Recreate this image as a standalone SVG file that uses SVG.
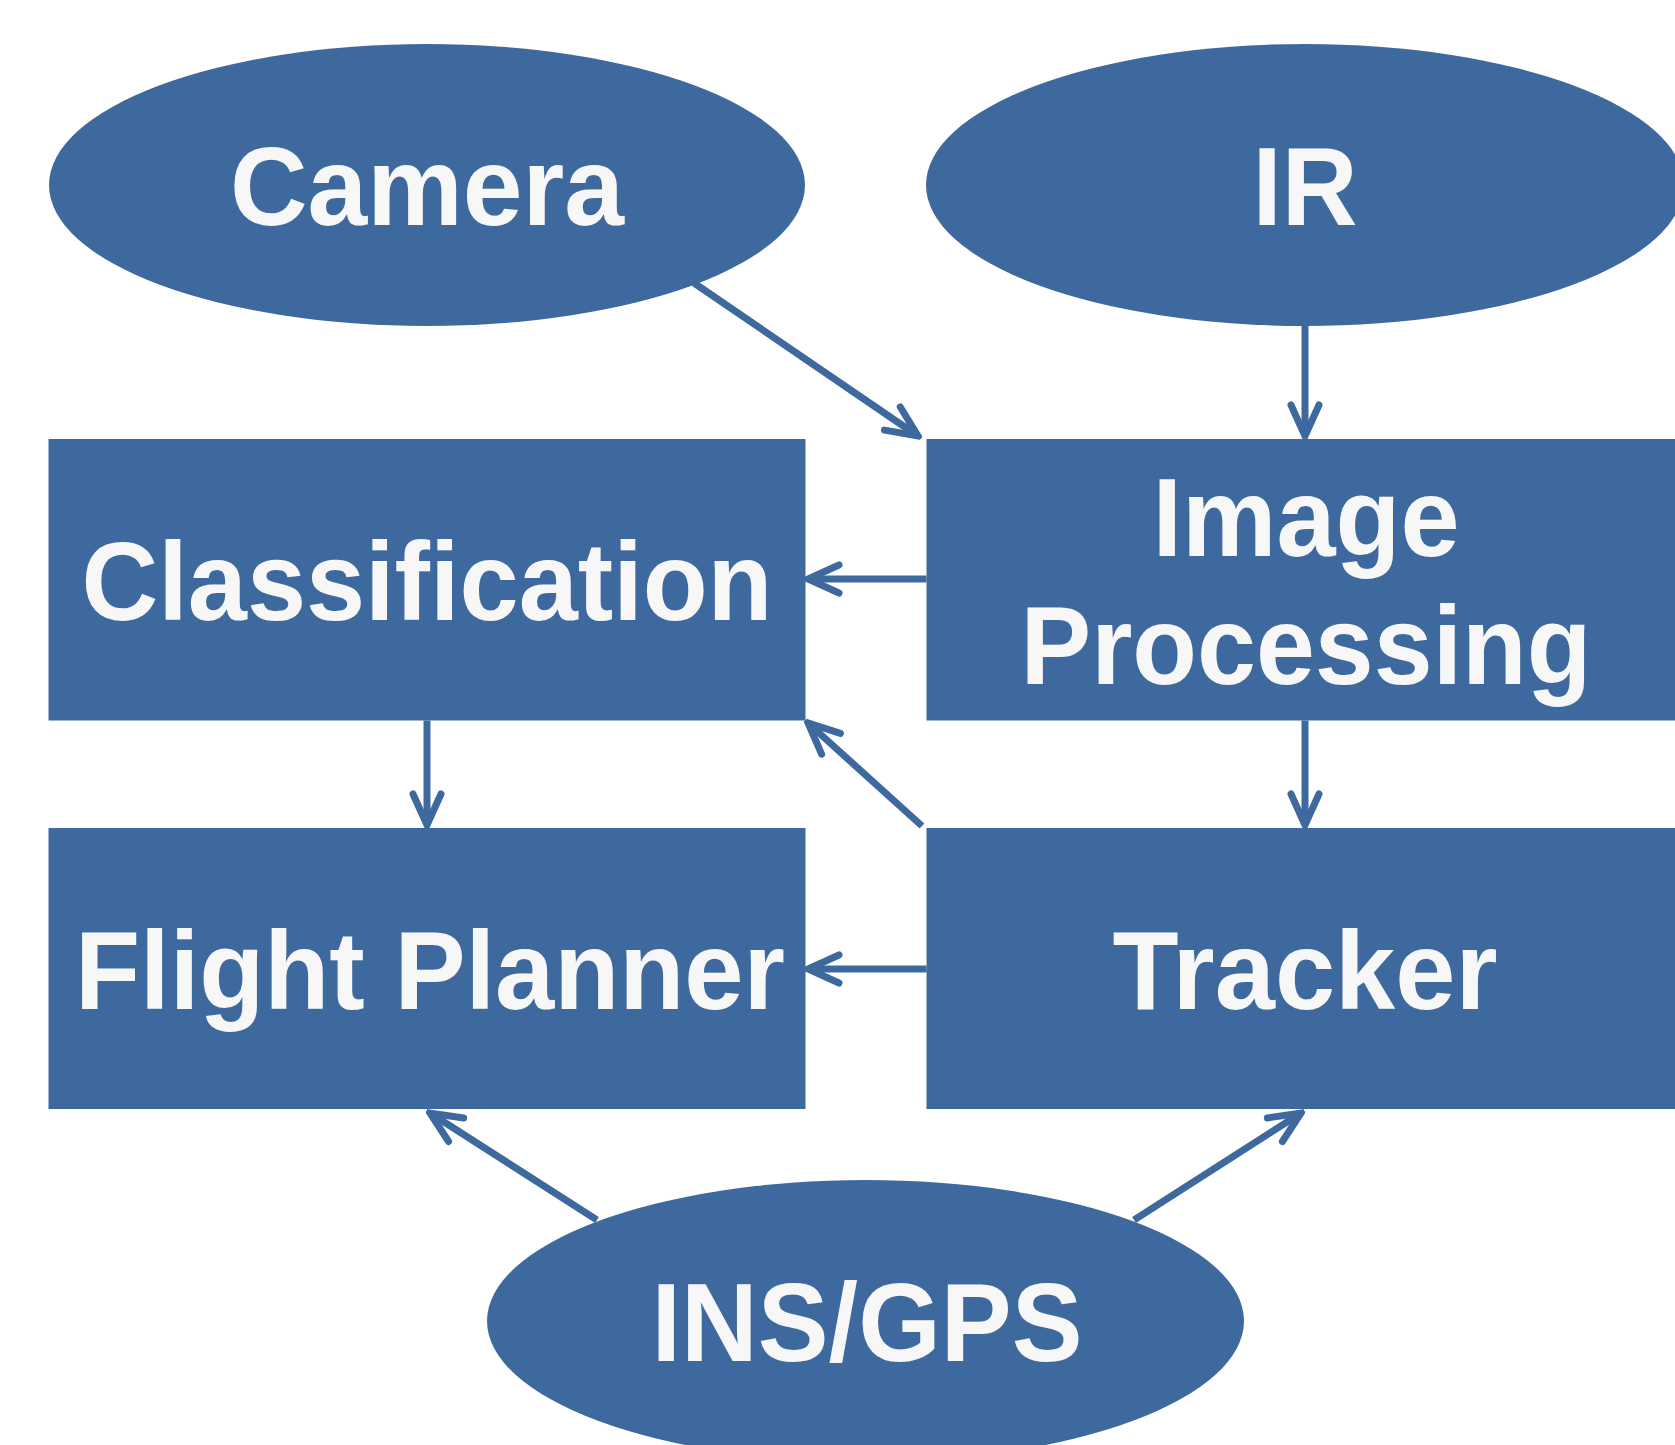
<svg xmlns="http://www.w3.org/2000/svg" width="1675" height="1445" viewBox="0 0 1675 1445">
<defs>
<style>
.node{fill:#3D699E;}
.lbl{font-family:"Liberation Sans",Arial,sans-serif;font-weight:bold;font-size:112px;fill:#F7F7F7;text-anchor:middle;}
.conn{stroke:#3D699E;stroke-width:7;fill:none;stroke-linecap:butt;}
</style>
<marker id="arr" markerUnits="userSpaceOnUse" viewBox="-40 -20 44 40" refX="0" refY="0" markerWidth="44" markerHeight="40" orient="auto">
<path d="M -31,-14 L 0,0 L -31,14" fill="none" stroke="#3D699E" stroke-width="7" stroke-linecap="round" stroke-linejoin="miter"/>
</marker>
</defs>
<rect width="1675" height="1445" fill="#FFFFFF"/>
<g id="camera"><ellipse class="node" cx="427" cy="185" rx="378" ry="141"/><text class="lbl" x="427" y="225" textLength="394" lengthAdjust="spacingAndGlyphs">Camera</text></g>
<g id="ir"><ellipse class="node" cx="1305" cy="185" rx="379" ry="141"/><text class="lbl" x="1305" y="225" textLength="105" lengthAdjust="spacingAndGlyphs">IR</text></g>
<g id="classification"><rect class="node" x="48.5" y="439" width="757" height="281.5"/><text class="lbl" x="427" y="619.5" textLength="691" lengthAdjust="spacingAndGlyphs">Classification</text></g>
<g id="image-processing"><rect class="node" x="926.5" y="439" width="757" height="281.5"/><text class="lbl" x="1306" y="556" textLength="307" lengthAdjust="spacingAndGlyphs">Image</text><text class="lbl" x="1306" y="683.5" textLength="571" lengthAdjust="spacingAndGlyphs">Processing</text></g>
<g id="flight-planner"><rect class="node" x="48.5" y="828" width="757" height="281"/><text class="lbl" x="430" y="1008.5" textLength="710" lengthAdjust="spacingAndGlyphs">Flight Planner</text></g>
<g id="tracker"><rect class="node" x="926.5" y="828" width="757" height="281"/><text class="lbl" x="1305" y="1009" textLength="385" lengthAdjust="spacingAndGlyphs">Tracker</text></g>
<g id="ins-gps"><ellipse class="node" cx="865.5" cy="1321" rx="378.5" ry="141"/><text class="lbl" x="867" y="1361" textLength="431" lengthAdjust="spacingAndGlyphs">INS/GPS</text></g>
<g id="connectors">
<line class="conn" x1="694" y1="283" x2="918" y2="436" marker-end="url(#arr)"/>
<line class="conn" x1="1305" y1="326" x2="1305" y2="436" marker-end="url(#arr)"/>
<line class="conn" x1="926.5" y1="579" x2="808" y2="579" marker-end="url(#arr)"/>
<line class="conn" x1="1305" y1="720.5" x2="1305" y2="825" marker-end="url(#arr)"/>
<line class="conn" x1="427" y1="720.5" x2="427" y2="825" marker-end="url(#arr)"/>
<line class="conn" x1="922" y1="826" x2="808" y2="723" marker-end="url(#arr)"/>
<line class="conn" x1="926.5" y1="969" x2="808" y2="969" marker-end="url(#arr)"/>
<line class="conn" x1="597" y1="1220" x2="430" y2="1113" marker-end="url(#arr)"/>
<line class="conn" x1="1134" y1="1220" x2="1301" y2="1113" marker-end="url(#arr)"/>
</g>
</svg>
